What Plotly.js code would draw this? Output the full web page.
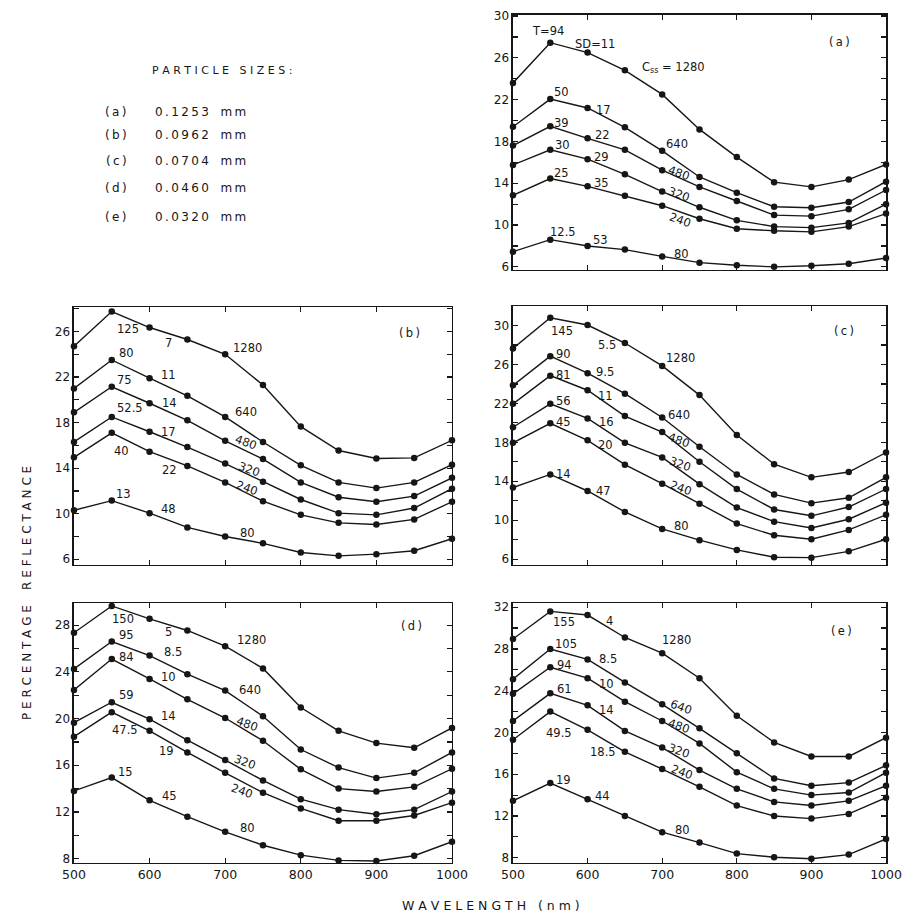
<!DOCTYPE html>
<html><head><meta charset="utf-8">
<script src="https://cdn.plot.ly/plotly-3.0.1.min.js"></script>
<style>html,body{margin:0;padding:0;background:#fff}#chart{width:902px;height:913px}</style>
</head><body><div id="chart"></div>
<script>
// ---------- DATA ----------
const wavelength = [500,550,600,650,700,750,800,850,900,950,1000];
const cssLevels = ['1280','640','480','320','240','80'];
const panelLetters = ['(a)','(b)','(c)','(d)','(e)'];
const sizeLabels = ['(a)','(b)','(c)','(d)','(e)'];
const particleSizes = ['0.1253','0.0962','0.0704','0.0460','0.0320'];
const sizeUnit = 'mm';

// panel (a)
const a1280 = [23.6,27.45,26.5,24.8,22.5,19.15,16.5,14.1,13.65,14.35,15.8];
const a640  = [19.4,22.05,21.2,19.35,17.1,14.6,13.1,11.75,11.65,12.2,14.15];
const a480  = [17.6,19.45,18.3,17.2,15.25,13.65,12.3,10.95,10.85,11.5,13.35];
const a320  = [15.75,17.2,16.3,14.85,13.2,11.7,10.45,9.85,9.75,10.2,12.0];
const a240  = [12.85,14.45,13.7,12.8,11.85,10.6,9.65,9.45,9.35,9.85,11.1];
const a80   = [7.45,8.6,8.0,7.65,7.0,6.4,6.15,6.0,6.1,6.3,6.85];
const turbA = ['T=94','50','39','30','25','12.5'];
const sdA   = ['SD=11','17','22','29','35','53'];

// panel (b)
const b1280 = [24.7,27.75,26.35,25.3,24.0,21.3,17.65,15.55,14.85,14.9,16.45];
const b640  = [21.0,23.5,21.9,20.35,18.5,16.3,14.25,12.75,12.25,12.75,14.3];
const b480  = [18.9,21.15,19.7,18.2,16.4,14.8,12.75,11.45,11.05,11.55,13.15];
const b320  = [16.3,18.5,17.2,15.85,14.4,12.8,11.25,10.05,9.9,10.5,12.2];
const b240  = [14.95,17.1,15.45,14.2,12.75,11.1,9.9,9.2,9.05,9.5,11.05];
const b80   = [10.3,11.15,10.05,8.8,8.0,7.4,6.6,6.3,6.45,6.75,7.8];
const turbB = ['125','80','75','52.5','40','13'];
const sdB   = ['7','11','14','17','22','48'];

// panel (c)
const c1280 = [27.65,30.8,30.05,28.2,25.85,22.85,18.75,15.75,14.4,14.95,16.95];
const c640  = [23.85,26.85,25.1,23.0,20.55,17.55,14.7,12.65,11.75,12.3,14.4];
const c480  = [21.95,24.85,23.35,20.7,19.05,16.0,13.2,11.1,10.45,11.35,13.2];
const c320  = [19.55,21.95,20.45,17.95,16.45,13.7,11.3,9.85,9.2,10.1,11.8];
const c240  = [17.95,19.95,18.2,15.7,13.75,11.7,9.65,8.45,8.05,9.0,10.55];
const c80   = [13.35,14.7,13.0,10.85,9.1,7.95,6.95,6.2,6.15,6.8,8.05];
const turbC = ['145','90','81','56','45','14'];
const sdC   = ['5.5','9.5','11','16','20','47'];

// panel (d)
const d1280 = [27.35,29.65,28.55,27.55,26.2,24.3,20.95,18.95,17.9,17.5,19.2];
const d640  = [24.25,26.6,25.4,23.8,22.4,20.2,17.35,15.8,14.9,15.35,17.1];
const d480  = [22.45,25.1,23.4,21.65,20.05,18.1,15.65,14.0,13.75,14.15,15.7];
const d320  = [19.65,21.4,19.95,18.15,16.45,14.7,13.1,12.2,11.8,12.2,13.75];
const d240  = [18.45,20.55,18.95,17.1,15.35,13.65,12.3,11.25,11.25,11.7,12.8];
const d80   = [13.8,14.95,13.0,11.6,10.3,9.15,8.3,7.85,7.8,8.25,9.45];
const turbD = ['150','95','84','59','47.5','15'];
const sdD   = ['5','8.5','10','14','19','45'];

// panel (e)
const e1280 = [28.95,31.6,31.25,29.1,27.6,25.2,21.6,19.05,17.7,17.7,19.5];
const e640  = [25.1,28.0,27.0,24.8,22.7,20.4,18.0,15.6,14.9,15.2,16.85];
const e480  = [23.7,26.25,25.2,22.95,21.1,18.95,16.2,14.6,14.0,14.25,16.15];
const e320  = [21.1,23.75,22.6,20.15,18.55,16.4,14.6,13.35,13.0,13.45,14.9];
const e240  = [19.3,22.0,20.25,18.15,16.5,14.8,13.0,12.0,11.75,12.2,13.75];
const e80   = [13.45,15.15,13.6,12.0,10.45,9.45,8.4,8.05,7.9,8.3,9.8];
const turbE = ['155','105','94','61','49.5','19'];
const sdE   = ['4','8.5','10','14','18.5','44'];

const xTitle = 'WAVELENGTH';
const xUnit = '(nm)';
const yTitleWords = ['PERCENTAGE','REFLECTANCE'];
const legendTitle = 'PARTICLE SIZES:';

// ---------- LABEL PLACEMENT (data coords of text) ----------
const posA = {t:[[547,28.6],[565,22.75],[565,19.8],[567,17.7],[565,14.95],[567,9.35]],
  s:[[610,27.3],[621,21.05],[620,18.65],[619,16.5],[619,14.05],[617,8.6]],
  c:[[715,25.05],[720,17.75],[722,15.0],[722,12.95],[724,10.45],[726,7.2]], rot:[0,0,20,20,20,0], letter:[937,27.5]};
const posB = {t:[[572,26.25],[570,24.1],[567,21.7],[574,19.25],[563,15.5],[565,11.7]],
  s:[[625,25.0],[625,22.2],[627,19.7],[625,17.2],[627,13.8],[625,10.4]],
  c:[[729,24.55],[727,18.95],[727,16.3],[731,13.9],[729,12.25],[729,8.3]], rot:[0,0,20,20,20,0], letter:[944,25.85]};
const posC = {t:[[566,29.4],[568,27.1],[568,24.9],[568,22.25],[568,20.1],[568,14.7]],
  s:[[626,27.95],[624,25.2],[624,22.75],[626,20.1],[624,17.7],[622,13.0]],
  c:[[725,26.7],[723,20.8],[722,18.25],[724,15.75],[725,13.35],[726,9.4]], rot:[0,0,20,20,20,0], letter:[944,29.4]};
const posD = {t:[[565,28.5],[570,27.2],[570,25.3],[570,22.0],[568,19.0],[568,15.4]],
  s:[[625,27.4],[631,25.7],[625,23.6],[625,20.25],[623,17.25],[627,13.35]],
  c:[[735,26.7],[733,22.45],[729,19.5],[726,16.3],[722,13.8],[729,10.6]], rot:[0,0,20,20,20,0], letter:[947,27.9]};
const posE = {t:[[568,30.6],[571,28.5],[569,26.45],[569,24.15],[562,19.95],[568,15.4]],
  s:[[629,30.7],[627,27.05],[625,24.65],[625,22.15],[620,18.15],[620,13.9]],
  c:[[719,28.9],[725,22.4],[722,20.65],[723,18.25],[727,16.2],[727,10.65]], rot:[0,20,20,20,20,0], letter:[940,29.75]};

const panels = [
  {series:[a1280,a640,a480,a320,a240,a80], turb:turbA, sd:sdA, pos:posA, ax:'',  yr:[5.7,30.1],  t0:6, xd:[0.5687,0.9823], yd:[0.7043,0.9836], xl:false},
  {series:[b1280,b640,b480,b320,b240,b80], turb:turbB, sd:sdB, pos:posB, ax:'2', yr:[5.5,28.15], t0:6, xd:[0.0820,0.5011], yd:[0.3812,0.6637], xl:false},
  {series:[c1280,c640,c480,c320,c240,c80], turb:turbC, sd:sdC, pos:posC, ax:'3', yr:[5.4,32.0],  t0:6, xd:[0.5687,0.9823], yd:[0.3812,0.6648], xl:false},
  {series:[d1280,d640,d480,d320,d240,d80], turb:turbD, sd:sdD, pos:posD, ax:'4', yr:[7.63,29.9], t0:8, xd:[0.0820,0.5011], yd:[0.0548,0.3395], xl:true},
  {series:[e1280,e640,e480,e320,e240,e80], turb:turbE, sd:sdE, pos:posE, ax:'5', yr:[7.5,32.4],  t0:8, xd:[0.5687,0.9823], yd:[0.0548,0.3395], xl:true}
];

// ---------- BUILD ----------
const FONT = 'DejaVu Sans, Arial, sans-serif';
const INK = '#161616';
const TH = '\u2009';
const spaced = (s, sep) => s.split('').join(sep);
const traces = [];
const annotations = [];
const layout = {
  width:902, height:913, margin:{l:0,r:0,t:0,b:0},
  paper_bgcolor:'#fff', plot_bgcolor:'#fff', showlegend:false,
  font:{family:FONT, color:INK}
};

panels.forEach((p, pi) => {
  const xa = 'x'+p.ax, ya = 'y'+p.ax;
  p.series.forEach(vals => {
    traces.push({x:wavelength, y:vals, xaxis:xa, yaxis:ya, type:'scatter', mode:'lines+markers',
      line:{color:INK, width:1.4}, marker:{color:INK, size:6.5}, cliponaxis:false, hoverinfo:'skip'});
  });
  layout['xaxis'+p.ax] = {domain:p.xd, anchor:ya, range:[500,1000], tick0:500, dtick:100,
    ticks:'inside', ticklen:5, tickwidth:1.2, tickcolor:INK, mirror:'ticks', showline:true, linecolor:INK, linewidth:1.5,
    showgrid:false, zeroline:false, showticklabels:p.xl, tickfont:{family:FONT, size:12.5, color:INK}};
  layout['yaxis'+p.ax] = {domain:p.yd, anchor:xa, range:p.yr, tick0:p.t0, dtick:4,
    ticks:'inside', ticklen:5, tickwidth:1.2, tickcolor:INK, mirror:'ticks', showline:true, linecolor:INK, linewidth:1.5,
    minor:{dtick:2, tick0:p.t0, ticks:'inside', ticklen:5, tickcolor:INK, showgrid:false},
    showgrid:false, zeroline:false, tickfont:{family:FONT, size:12, color:INK}};
  const mk = (txt, xy, rot) => annotations.push({xref:xa, yref:ya, x:xy[0], y:xy[1], text:txt, showarrow:false,
    textangle:rot||0, font:{family:FONT, size:11.5, color:INK}, xanchor:'center', yanchor:'middle'});
  p.turb.forEach((t,i) => mk(t, p.pos.t[i]));
  p.sd.forEach((s,i) => mk(s, p.pos.s[i]));
  cssLevels.forEach((c,i) => mk((pi===0 && i===0) ? 'C<sub>ss</sub> = '+c : c, p.pos.c[i], p.pos.rot[i]));
  mk(spaced(panelLetters[pi], TH), p.pos.letter);
});

// axis titles and side legend (paper coords)
const px = v => v/902, py = v => 1 - v/913;
annotations.push({xref:'paper', yref:'paper', x:px(491), y:py(905), xanchor:'center', yanchor:'middle',
  text:spaced(xTitle,' ')+'   '+spaced(xUnit,' '), showarrow:false, font:{family:FONT, size:12.5, color:INK}});
annotations.push({xref:'paper', yref:'paper', x:px(27), y:py(593), xanchor:'center', yanchor:'middle',
  text:yTitleWords.map(w => spaced(w,' ')).join('    '), textangle:-90, showarrow:false,
  font:{family:FONT, size:12, color:INK}});
annotations.push({xref:'paper', yref:'paper', x:px(222), y:py(70), xanchor:'center', yanchor:'middle',
  text:legendTitle.split(' ').map(w => spaced(w,' ')).join('   '), showarrow:false,
  font:{family:FONT, size:11, color:INK}});
const rowsY = [112,135,161,188,217];
sizeLabels.forEach((s,i) => {
  annotations.push({xref:'paper', yref:'paper', x:px(116), y:py(rowsY[i]), text:spaced(s,TH), showarrow:false,
    xanchor:'center', yanchor:'middle', font:{family:FONT, size:12, color:INK}});
  annotations.push({xref:'paper', yref:'paper', x:px(153), y:py(rowsY[i]), text:spaced(particleSizes[i],TH)+'   '+spaced(sizeUnit,TH),
    showarrow:false, xanchor:'left', yanchor:'middle', font:{family:FONT, size:12, color:INK}});
});
layout.annotations = annotations;

Plotly.newPlot('chart', traces, layout, {staticPlot:true, displayModeBar:false});
</script>
</body></html>
